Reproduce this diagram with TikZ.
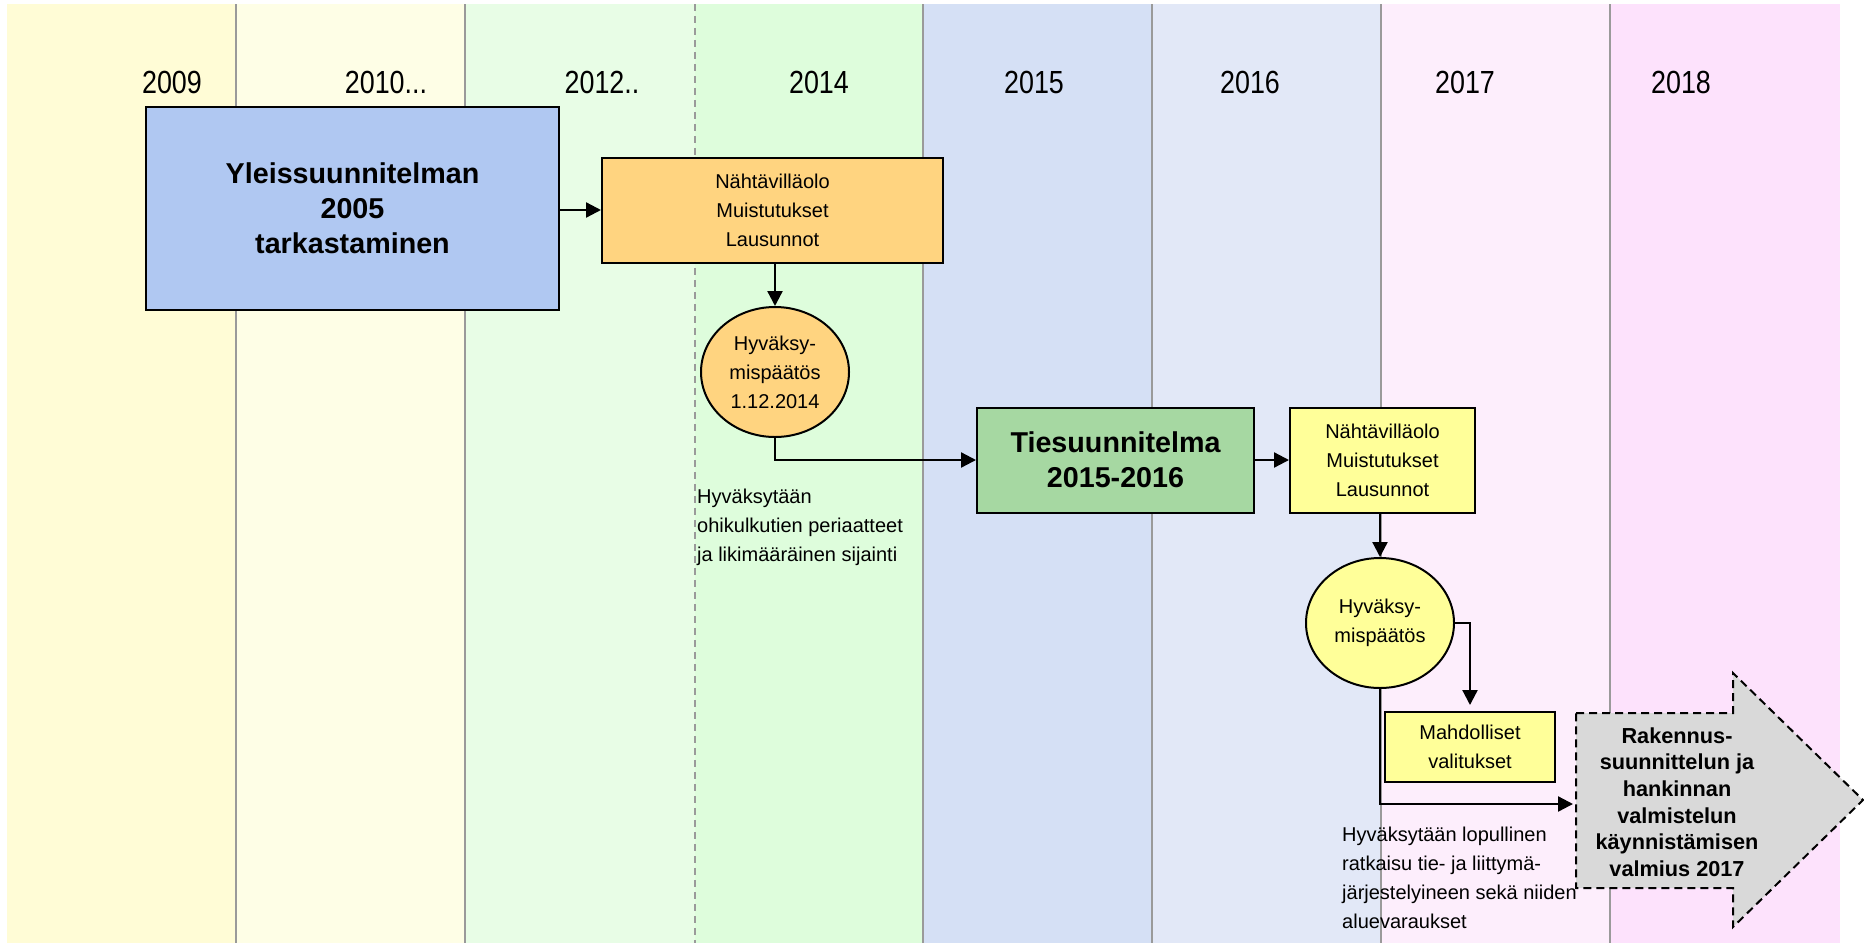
\documentclass[tikz,border=0pt]{standalone}
\usepackage{fontspec}
\setmainfont{Liberation Sans}
\newfontfamily\yearfont{Liberation Sans}[FakeStretch=0.84]
\usetikzlibrary{arrows.meta,shapes.geometric}
\definecolor{cA}{HTML}{FFFCD6}
\definecolor{cB}{HTML}{FEFEE6}
\definecolor{cC}{HTML}{E8FDE6}
\definecolor{cD}{HTML}{DEFDDC}
\definecolor{cE}{HTML}{D5E0F5}
\definecolor{cF}{HTML}{E2E8F7}
\definecolor{cG}{HTML}{FDEEFC}
\definecolor{cH}{HTML}{FDE2FC}
\definecolor{blueBox}{HTML}{B0C8F2}
\definecolor{orangeBox}{HTML}{FFD480}
\definecolor{greenBox}{HTML}{A6D8A2}
\definecolor{yellowBox}{HTML}{FFFF99}
\definecolor{grayArrow}{HTML}{D9D9D9}
\definecolor{sepGray}{HTML}{9A9A9A}
\begin{document}
\begin{tikzpicture}[x=1pt,y=-1pt,
  sep/.style={draw=sepGray,line width=1.5pt},
  yearlbl/.style={inner sep=0pt,font=\yearfont\fontsize{32}{36}\selectfont},
  boxbase/.style={draw=black,line width=2pt,inner sep=0pt,align=center},
  normtxt/.style={font=\fontsize{20}{29}\selectfont},
  boldbig/.style={font=\bfseries\fontsize{28.7}{35}\selectfont},
  ovalbox/.style={ellipse,draw=black,line width=2pt,inner sep=0pt,align=center,minimum width=148pt,minimum height=130pt},
  conn/.style={draw=black,line width=2.3pt,-{Triangle[length=15pt,width=15pt]}},
  note/.style={inner sep=0pt,align=left,font=\fontsize{20}{29}\selectfont}
]
\useasboundingbox (0,0) rectangle (1864,943);
\fill[white] (0,0) rectangle (1864,943);
% bands
\fill[cA] (7,4) rectangle (236,943);
\fill[cB] (236,4) rectangle (465,943);
\fill[cC] (465,4) rectangle (695,943);
\fill[cD] (695,4) rectangle (923,943);
\fill[cE] (923,4) rectangle (1152,943);
\fill[cF] (1152,4) rectangle (1381,943);
\fill[cG] (1381,4) rectangle (1610,943);
\fill[cH] (1610,4) rectangle (1840,943);
\draw[sep] (236,4) -- (236,943);
\draw[sep] (465,4) -- (465,943);
\draw[sep,dash pattern=on 7pt off 5pt] (695,4) -- (695,943);
\draw[sep] (923,4) -- (923,943);
\draw[sep] (1152,4) -- (1152,943);
\draw[sep] (1381,4) -- (1381,943);
\draw[sep] (1610,4) -- (1610,943);
% years
\node[yearlbl] (y2009) at (172,82) {2009};
\node[yearlbl] (y2010) at (386,82) {2010...};
\node[yearlbl] (y2012) at (602,82) {2012..};
\node[yearlbl] (y2014) at (819,82) {2014};
\node[yearlbl] (y2015) at (1034,82) {2015};
\node[yearlbl] (y2016) at (1250,82) {2016};
\node[yearlbl] (y2017) at (1465,82) {2017};
\node[yearlbl] (y2018) at (1681,82) {2018};
% boxes
\node[boxbase,boldbig,fill=blueBox,minimum width=413pt,minimum height=203pt] (box1) at (352.5,208.5)
  {Yleissuunnitelman\\2005\\tarkastaminen};
\node[boxbase,normtxt,fill=orangeBox,minimum width=341pt,minimum height=105pt] (box2) at (772.5,210.5)
  {Nähtävilläolo\\Muistutukset\\Lausunnot};
\node[ovalbox,normtxt,fill=orangeBox] (ell1) at (775,372) {Hyväksy-\\mispäätös\\1.12.2014};
\node[boxbase,boldbig,fill=greenBox,minimum width=277pt,minimum height=105pt] (box3) at (1115.5,460)
  {Tiesuunnitelma\\2015-2016};
\node[boxbase,normtxt,fill=yellowBox,minimum width=185pt,minimum height=105pt] (box4) at (1382.5,460)
  {Nähtävilläolo\\Muistutukset\\Lausunnot};
\node[ovalbox,normtxt,fill=yellowBox] (ell2) at (1380,623) {Hyväksy-\\mispäätös};
\node[boxbase,normtxt,fill=yellowBox,minimum width=170pt,minimum height=70pt] (box5) at (1470,747)
  {Mahdolliset\\valitukset};
% big dashed arrow
\coordinate (bigL) at (1576,804);
\filldraw[fill=grayArrow,draw=black,line width=2pt,dash pattern=on 8pt off 5pt]
  (1576,713) -- (1733,713) -- (1733,673) -- (1863,800) -- (1733,927) -- (1733,888) -- (1576,888) -- cycle;
\node[inner sep=0pt,align=center,font=\bfseries\fontsize{21.7}{26.6}\selectfont] (rak) at (1677,802)
  {Rakennus-\\suunnittelun ja\\hankinnan\\valmistelun\\käynnistämisen\\valmius 2017};
% connectors
\draw[conn] (box1.east |- 0,210) -- (box2.west |- 0,210);
\draw[conn] (ell1.north |- box2.south) -- (ell1.north);
\draw[conn] (ell1.south) |- (box3.west);
\draw[conn] (box3.east) -- (box4.west);
\draw[conn] (ell2.north |- box4.south) -- (ell2.north);
\draw[conn,shorten >=6pt] (ell2.east) -| (box5.north);
\draw[conn,shorten >=3pt] (ell2.south) |- (bigL);
% notes
\node[note,anchor=west] (note1) at (697,527)
  {Hyväksytään\\ohikulkutien periaatteet\\ja likimääräinen sijainti};
\node[note,anchor=west] (note2) at (1342,878)
  {Hyväksytään lopullinen\\ratkaisu tie- ja liittymä-\\järjestelyineen sekä niiden\\aluevaraukset};
\end{tikzpicture}
\end{document}
